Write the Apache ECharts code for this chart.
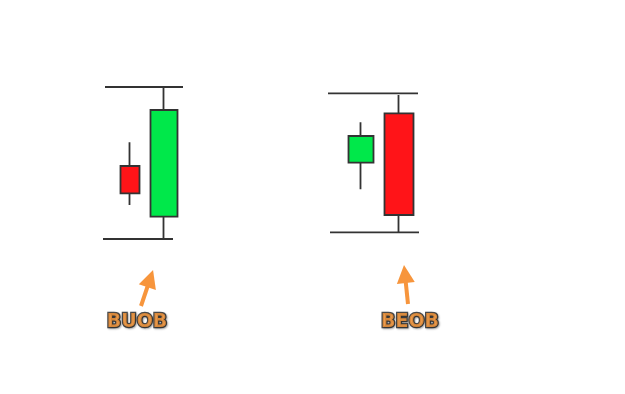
<!DOCTYPE html>
<html>
<head>
<meta charset="utf-8">
<style>html,body{margin:0;padding:0;background:#fff;}#c{width:625px;height:394px;}</style>
<script src="https://cdn.jsdelivr.net/npm/echarts@6/dist/echarts.min.js"></script>
</head>
<body>
<div id="c"></div>
<script>
// candles: [x, open, close, low, high]
const candleNames = ['BUOB small', 'BUOB big', 'BEOB small', 'BEOB big'];
const candleData = [
  [130, 228, 200.7, 189, 251.7],
  [164, 177.3, 284, 154, 307],
  [361, 231.3, 258, 204.7, 271.7],
  [399, 280.7, 179, 161.3, 299]
];
// horizontal levels: [xStart, xEnd, value]
const levels = [
  [105, 183, 307],
  [103, 173, 155],
  [328, 418, 300.7],
  [330, 419, 161.7]
];
// arrows: [[x0,y0],[x1,y1]]
const arrows = [
  [[141, 88], [150.2, 115.4]],
  [[408, 90], [404.9, 120]]
];
const labels = ['BUOB', 'BEOB'];
const labelPos = [[137, 72], [410, 72]];

const widths = [20, 28, 25, 29];

const series = [];
candleData.forEach((d, i) => {
  series.push({
    name: candleNames[i],
    type: 'candlestick',
    barWidth: widths[i],
    encode: { x: 0, y: [1, 2, 3, 4] },
    data: [d],
    itemStyle: {
      color: '#00e84a',
      color0: '#ff1418',
      borderColor: '#333333',
      borderColor0: '#333333',
      borderWidth: 1.8
    },
    silent: true
  });
});
levels.forEach((l, i) => {
  series.push({
    type: 'line',
    data: [[l[0], l[2]], [l[1], l[2]]],
    symbol: 'none',
    lineStyle: { color: '#333333', width: 1.8 },
    silent: true
  });
});
series.push({
  type: 'lines',
  coordinateSystem: 'cartesian2d',
  data: arrows.map(a => ({ coords: a })),
  symbol: ['none', 'triangle'],
  symbolSize: [17, 18],
  lineStyle: { color: '#f7953c', width: 4, opacity: 1 },
  silent: true
});
series.push({
  type: 'scatter',
  data: labelPos.map((p, i) => ({ value: p, name: labels[i] })),
  symbol: 'circle',
  symbolSize: 2,
  itemStyle: { color: 'rgba(255,255,255,0)' },
  label: {
    show: true,
    position: 'inside',
    formatter: '{b}',
    fontFamily: 'DejaVu Sans',
    fontWeight: 'bold',
    fontSize: 19,
    color: '#ff9c3c',
    textBorderColor: '#222222',
    textBorderWidth: 2.5,
    textShadowColor: 'rgba(0,0,0,0.35)',
    textShadowBlur: 2,
    textShadowOffsetX: 1,
    textShadowOffsetY: 1
  },
  silent: true
});

const chart = echarts.init(document.getElementById('c'));
chart.setOption({
  animation: false,
  backgroundColor: '#ffffff',
  grid: { left: 0, right: 0, top: 0, bottom: 0 },
  xAxis: { type: 'value', min: 0, max: 625, show: false },
  yAxis: { type: 'value', min: 0, max: 394, show: false },
  series: series
});
</script>
</body>
</html>
